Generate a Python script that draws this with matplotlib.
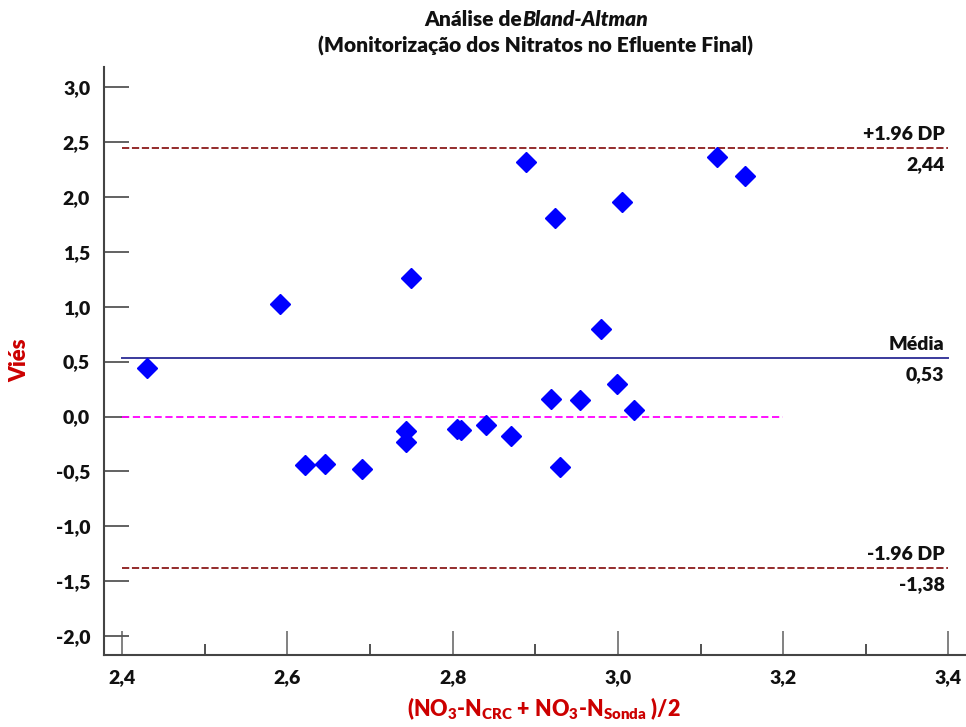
import matplotlib
matplotlib.use("Agg")
import matplotlib.pyplot as plt
from matplotlib.ticker import FixedLocator, FixedFormatter

plt.rcParams['font.family'] = ['Lato', 'DejaVu Sans']
plt.rcParams['mathtext.default'] = 'regular'
WEIGHT = 'heavy'

# Mean of the two methods (x) and their difference (y)
mean_methods = [2.430, 2.591, 2.749, 2.889, 2.924, 3.005, 3.120, 3.154,
                2.979, 2.919, 2.954, 2.999, 3.020, 2.621, 2.645, 2.690,
                2.744, 2.744, 2.805, 2.810, 2.840, 2.870, 2.930]
differences = [0.44, 1.02, 1.26, 2.32, 1.81, 1.95, 2.36, 2.19,
               0.80, 0.16, 0.15, 0.30, 0.06, -0.44, -0.43, -0.48,
               -0.13, -0.23, -0.11, -0.12, -0.08, -0.18, -0.46]

bias = 0.53
upper_loa = 2.44
lower_loa = -1.38

x_ticks = [2.4, 2.6, 2.8, 3.0, 3.2, 3.4]
x_tick_labels = ['2,4', '2,6', '2,8', '3,0', '3,2', '3,4']
y_ticks = [3.0, 2.5, 2.0, 1.5, 1.0, 0.5, 0.0, -0.5, -1.0, -1.5, -2.0]
y_tick_labels = ['3,0', '2,5', '2,0', '1,5', '1,0', '0,5', '0,0',
                 '-0,5', '-1,0', '-1,5', '-2,0']

fig = plt.figure(figsize=(9.66, 7.27), dpi=100)
W, H = 966, 727
ax = fig.add_axes([104 / W, 1 - 655 / H, (965 - 104) / W, (655 - 67) / H])

ax.set_xlim(2.378, 3.42)
ax.set_ylim(-2.17, 3.18)

# Reference lines
ax.plot([2.4, 3.4], [upper_loa, upper_loa], color='#8B1A1A', lw=1.3,
        dashes=(4, 1.5))
ax.plot([2.4, 3.4], [lower_loa, lower_loa], color='#8B1A1A', lw=1.3,
        dashes=(4, 1.5))
ax.plot([2.4, 3.4], [bias, bias], color='#3A3A9C', lw=1.4)
ax.plot([2.4, 3.2], [0, 0], color='#FF00FF', lw=1.3, dashes=(4, 2))

# Data points
ax.plot(mean_methods, differences, linestyle='none', marker='D',
        markersize=10.5, color='#0000FF', markeredgecolor='#0000FF')

# Line annotations
lab_kw = dict(ha='right', fontsize=14, fontweight=WEIGHT, color='#111111')
ax.annotate('+1.96 DP', (3.4, upper_loa), xytext=(-4, 5),
            textcoords='offset pixels', va='bottom', **lab_kw)
ax.annotate('2,44', (3.4, upper_loa), xytext=(-4, -8),
            textcoords='offset pixels', va='top', **lab_kw)
ax.annotate('Média', (3.4, bias), xytext=(-4, 5),
            textcoords='offset pixels', va='bottom', **lab_kw)
ax.annotate('0,53', (3.4, bias), xytext=(-4, -8),
            textcoords='offset pixels', va='top', **lab_kw)
ax.annotate('-1.96 DP', (3.4, lower_loa), xytext=(-4, 5),
            textcoords='offset pixels', va='bottom', **lab_kw)
ax.annotate('-1,38', (3.4, lower_loa), xytext=(-4, -8),
            textcoords='offset pixels', va='top', **lab_kw)

# Axes styling
for side in ('top', 'right'):
    ax.spines[side].set_visible(False)
for side in ('left', 'bottom'):
    ax.spines[side].set_color('#444444')
    ax.spines[side].set_linewidth(1.5)

ax.xaxis.set_major_locator(FixedLocator(x_ticks))
ax.xaxis.set_major_formatter(FixedFormatter(x_tick_labels))
ax.xaxis.set_minor_locator(FixedLocator([2.5, 2.7, 2.9, 3.1, 3.3]))
ax.yaxis.set_major_locator(FixedLocator(y_ticks))
ax.yaxis.set_major_formatter(FixedFormatter(y_tick_labels))

ax.tick_params(axis='x', which='major', direction='in', length=17, width=1.3,
               color='#777777', pad=10, labelsize=14)
ax.tick_params(axis='x', which='minor', direction='in', length=8, width=1.2,
               color='#333333')
ax.tick_params(axis='y', which='major', direction='in', length=18, width=1.3,
               color='#555555', pad=10, labelsize=14)
for lab in ax.get_xticklabels() + ax.get_yticklabels():
    lab.set_fontweight(WEIGHT)
    lab.set_color('#111111')

ax.set_xlabel(r'(NO$_3$-N$_{CRC}$ + NO$_3$-N$_{Sonda}$ )/2', fontsize=15.5,
              fontweight=WEIGHT, color='#CC0000')
ax.xaxis.set_label_coords((544 - 104) / (965 - 104), -40 / (655 - 67))
fig.text(20 / W, 1 - 360 / H, 'Viés', rotation=90, fontsize=16,
         fontweight=WEIGHT, color='#CC0000', ha='center', va='center')

# Two-line title, first line mixes upright and italic text
cx = 536 / W
t1 = fig.text(0, 1 - 19 / H, 'Análise de', fontsize=15, fontweight=WEIGHT,
              ha='left', va='center', color='#111111')
t2 = fig.text(0, 1 - 19 / H, 'Bland-Altman', fontsize=15, fontweight=WEIGHT,
              style='italic', ha='left', va='center', color='#111111')
fig.text(cx, 1 - 46 / H, '(Monitorização dos Nitratos no Efluente Final)',
         fontsize=15, fontweight=WEIGHT, ha='center', va='center',
         color='#111111')
fig.canvas.draw()
r = fig.canvas.get_renderer()
w1 = t1.get_window_extent(r).width
w2 = t2.get_window_extent(r).width
start = cx * W - (w1 + w2) / 2
t1.set_x(start / W)
t2.set_x((start + w1) / W)

fig.savefig('out.png', dpi=100)
